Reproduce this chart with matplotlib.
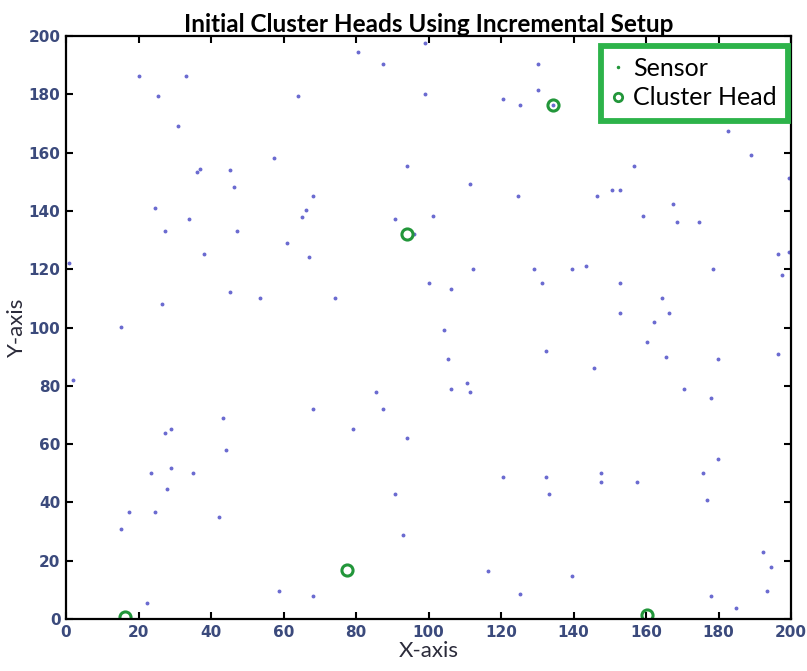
import matplotlib
matplotlib.use("Agg")
import matplotlib.pyplot as plt
from matplotlib.lines import Line2D
import numpy as np

# sensor positions
sensor_x = [99.0, 80.5, 87.5, 20.2, 33.0, 25.4, 63.9, 99.0, 31.0, 57.4,
            94.0, 36.1, 37.0, 45.2, 46.3, 68.2, 24.5, 66.1, 65.1, 34.0,
            90.8, 27.3, 47.3, 96.0, 61.0, 0.9, 38.1, 67.0, 100.1, 45.2,
            53.5, 74.2, 26.6, 15.1, 130.3, 130.3, 120.6, 125.2, 134.3, 182.7,
            188.9, 199.4, 156.7, 111.4, 124.6, 146.6, 150.7, 152.8, 167.5, 101.2,
            159.3, 168.5, 174.7, 196.5, 199.4, 197.4, 178.6, 112.4, 129.2, 139.5,
            143.4, 106.2, 131.2, 152.8, 164.5, 152.8, 166.3, 162.3, 104.3, 1.8,
            68.2, 85.5, 87.5, 43.2, 29.0, 27.3, 79.3, 94.0, 44.1, 29.0,
            23.4, 35.0, 27.8, 90.8, 17.3, 24.5, 42.1, 15.1, 93.0, 58.7,
            68.2, 22.4, 160.2, 132.3, 105.4, 165.4, 179.8, 196.5, 145.7, 110.5,
            106.3, 111.4, 170.5, 177.8, 179.8, 120.6, 132.3, 147.6, 147.6, 157.4,
            175.6, 133.2, 176.7, 192.4, 194.4, 116.5, 139.5, 125.2, 193.3, 177.8,
            184.8]
sensor_y = [197.5, 194.4, 190.4, 186.4, 186.4, 179.3, 179.3, 180.2, 169.1, 158.3,
            155.4, 153.2, 154.3, 154.1, 148.2, 145.1, 141.1, 140.2, 138.0, 137.1,
            137.1, 133.0, 133.1, 132.2, 129.1, 122.1, 125.1, 124.2, 115.3, 112.1,
            110.0, 110.0, 108.1, 100.2, 190.4, 181.4, 178.4, 176.2, 176.2, 167.3,
            159.2, 151.4, 155.4, 149.1, 145.1, 145.1, 147.3, 147.3, 142.3, 138.3,
            138.3, 136.2, 136.2, 125.1, 126.0, 118.0, 120.2, 120.2, 120.2, 120.2,
            121.0, 113.1, 115.2, 115.2, 110.0, 105.1, 105.1, 101.9, 99.1, 82.0,
            71.9, 78.0, 71.9, 69.1, 65.1, 63.7, 65.1, 62.0, 58.0, 51.8,
            50.0, 50.0, 44.7, 42.9, 36.7, 36.7, 34.9, 30.9, 28.7, 9.7,
            7.8, 5.6, 94.9, 92.0, 89.1, 90.0, 89.1, 90.9, 86.0, 81.1,
            78.8, 78.0, 78.8, 75.8, 54.9, 48.8, 48.8, 50.0, 46.9, 46.9,
            50.0, 42.9, 40.7, 22.9, 17.8, 16.6, 14.8, 8.7, 9.7, 7.8,
            3.8]

head_x = [94.0, 134.3, 77.4, 16.3, 160.2]
head_y = [132.2, 176.2, 16.8, 0.6, 1.4]

ticks = [0, 20, 40, 60, 80, 100, 120, 140, 160, 180, 200]

green = "#22963a"
dot_col = "#6b6bd0"
tick_col = "#3b4a7c"

fig = plt.figure(figsize=(8.07, 6.71), dpi=100)
ax = fig.add_axes([0.0818, 0.0775, 0.8984, 0.8688])

ax.plot(sensor_x, sensor_y, ".", color=dot_col, markersize=3.6, linestyle="none")
ax.plot(head_x, head_y, "o", markerfacecolor="none", markeredgecolor=green,
        markersize=8, markeredgewidth=2.2, linestyle="none")

ax.set_xlim(0, 200)
ax.set_ylim(0, 200)
ax.set_xticks(ticks)
ax.set_yticks(ticks)
ax.tick_params(direction="in", length=5, width=1.5, top=True, right=True,
               labelsize=11, labelcolor=tick_col, pad=4)
for lab in ax.get_xticklabels() + ax.get_yticklabels():
    lab.set_fontweight("bold")
    lab.set_family(["Liberation Sans Narrow", "DejaVu Sans"])
for sp in ax.spines.values():
    sp.set_linewidth(1.6)

ax.set_title("Initial Cluster Heads Using Incremental Setup", family="Lato",
             fontweight="bold", fontsize=17.5, pad=3)
ax.set_xlabel("X-axis", family="Lato", fontsize=16, color="#2b2b3a", labelpad=1)
ax.set_ylabel("Y-axis", family="Lato", fontsize=16, color="#2b2b3a", labelpad=1)

handles = [
    Line2D([], [], marker=".", color=green, markersize=3, linestyle="none"),
    Line2D([], [], marker="o", markerfacecolor="none", markeredgecolor=green,
           markersize=6, markeredgewidth=2, linestyle="none"),
]
leg = ax.legend(handles, ["Sensor", "Cluster Head"], loc="upper right",
                bbox_to_anchor=(0.996, 0.983),
                prop={"family": "Lato", "size": 18}, frameon=True, fancybox=False,
                handlelength=0.5, handletextpad=0.35, borderpad=0.45,
                labelspacing=0.25, borderaxespad=0.0)
leg.get_frame().set_edgecolor("#2db34a")
leg.get_frame().set_linewidth(4.2)
leg.get_frame().set_alpha(1)

fig.savefig("out.png", dpi=100)
